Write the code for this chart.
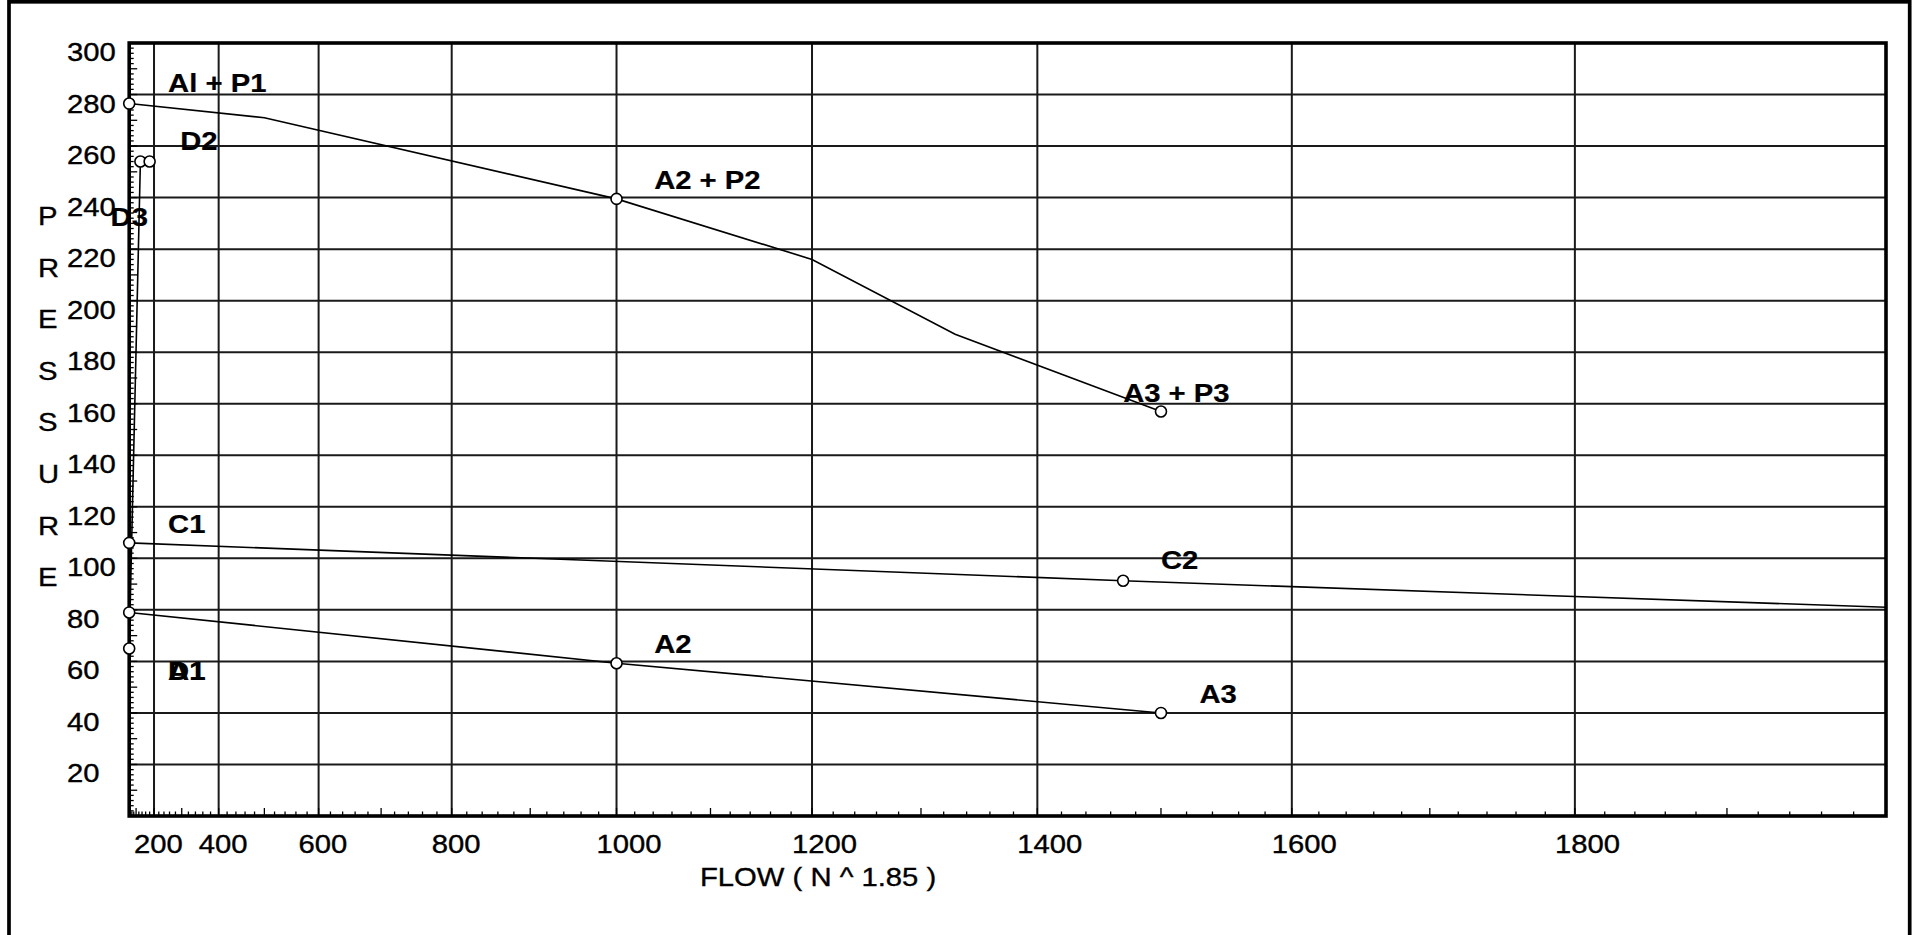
<!DOCTYPE html>
<html>
<head>
<meta charset="utf-8">
<script src="https://cdn.jsdelivr.net/npm/d3@7"></script>
<style>
  body { margin: 0; background: #fff; }
  svg { display: block; }
  text { font-family: "Liberation Sans", Arial, sans-serif; fill: #000; }
</style>
</head>
<body>
<div id="wrapper"></div>
<script>
// 1. Data (flow in gpm, pressure in psi)

const xTickValues = [200, 400, 600, 800, 1000, 1200, 1400, 1600, 1800];
const yTickValues = [20, 40, 60, 80, 100, 120, 140, 160, 180, 200, 220, 240, 260, 280, 300];

// supply + pump curve
const pumpCurve = [[0, 276.5], [500, 271], [1000, 239.5], [1200, 216], [1330, 187], [1500, 157]];
const pumpPoints = [[0, 276.5], [1000, 239.5], [1500, 157]];

// water supply test
const supplyCurve = [[0, 79], [1000, 59.3], [1500, 40]];
const supplyPoints = [[0, 79], [1000, 59.3], [1500, 40]];

// C line
const cCurve = [[0, 106], [1470, 91.3], [2000, 81]];
const cPoints = [[0, 106], [1470, 91.3]];

// demand
const demandCurve = [[0, 65], [130, 254], [180, 254]];
const demandPoints = [[0, 65], [130, 254], [180, 254]];

// label text and where it sits, in chart units
const labelNames = ["Al + P1", "D2", "D3", "A2 + P2", "A3 + P3", "C1", "C2", "A2", "A3", "D1", "A1"];
const labelFlow = [255, 295, 172, 1041, 1470, 255, 1500, 1041, 1530, 255, 255];
const labelPressure = [281, 258.5, 229, 243.3, 160.8, 110, 96, 63.3, 43.9, 52.8, 52.8];
const labelAnchor = ["start", "start", "end", "start", "start", "start", "start", "start", "start", "start", "start"];

const xTitle = "FLOW ( N ^ 1.85 )";
const yTitle = ["P", "R", "E", "S", "S", "U", "R", "E"];

function drawChart() {
  // 2. Dimensions

  const dimensions = {
    width: 1912,
    height: 935,
    plot: { left: 129.2, right: 1886, top: 43, bottom: 816 },
  };
  const fontSize = 25;
  const stretch = 1.17; // text in the reference is drawn wide

  // 3. Canvas

  const wrapper = d3
    .select("#wrapper")
    .append("svg")
    .attr("width", dimensions.width)
    .attr("height", dimensions.height);

  // 4. Scales

  const xScale = d3
    .scalePow()
    .exponent(1.85)
    .domain([0, 2000])
    .range([dimensions.plot.left, dimensions.plot.right]);

  const yScale = d3
    .scaleLinear()
    .domain([0, 300])
    .range([dimensions.plot.bottom, dimensions.plot.top]);

  const addText = (g, str, x, y, opts = {}) =>
    g
      .append("text")
      .attr("transform", `translate(${x},${y}) scale(${stretch},1)`)
      .attr("text-anchor", opts.anchor || "start")
      .style("font-size", `${fontSize}px`)
      .style("font-weight", opts.bold ? "bold" : "normal")
      .style("stroke", "#000")
      .style("stroke-width", opts.bold ? 0.2 : 0.35)
      .text(str);

  // outer frame
  wrapper
    .append("rect")
    .attr("x", 9)
    .attr("y", 1.8)
    .attr("width", 1900.7)
    .attr("height", 980)
    .attr("fill", "none")
    .attr("stroke", "#000")
    .attr("stroke-width", 3.7);

  // 5. Grid

  const grid = wrapper.append("g").attr("stroke", "#1a1a1a").attr("stroke-width", 2);

  grid
    .selectAll(".vgrid")
    .data(xTickValues)
    .join("line")
    .attr("x1", (d) => xScale(d))
    .attr("x2", (d) => xScale(d))
    .attr("y1", yScale(300))
    .attr("y2", yScale(0));

  grid
    .selectAll(".hgrid")
    .data(yTickValues.filter((d) => d < 300))
    .join("line")
    .attr("x1", xScale(0))
    .attr("x2", xScale(2000))
    .attr("y1", (d) => yScale(d))
    .attr("y2", (d) => yScale(d));

  // minor ticks
  const ticks = wrapper.append("g").attr("stroke", "#000").attr("stroke-width", 1.3);

  ticks
    .selectAll(".ytick")
    .data(d3.range(2, 300, 2))
    .join("line")
    .attr("x1", xScale(0))
    .attr("x2", (d) => xScale(0) + (d % 10 === 0 ? 8 : 4.5))
    .attr("y1", (d) => yScale(d))
    .attr("y2", (d) => yScale(d));

  ticks
    .selectAll(".xtick")
    .data(d3.range(20, 2000, 20))
    .join("line")
    .attr("x1", (d) => xScale(d))
    .attr("x2", (d) => xScale(d))
    .attr("y1", yScale(0))
    .attr("y2", (d) => yScale(0) - (d % 100 === 0 ? 8 : 4.5));

  // plot frame
  wrapper
    .append("rect")
    .attr("x", xScale(0))
    .attr("y", yScale(300))
    .attr("width", xScale(2000) - xScale(0))
    .attr("height", yScale(0) - yScale(300))
    .attr("fill", "none")
    .attr("stroke", "#000")
    .attr("stroke-width", 3.6);

  // 6. Axis labels

  const axisText = wrapper.append("g");
  xTickValues.forEach((d) => addText(axisText, d, xScale(d) - 20, 853));
  yTickValues.forEach((d) => addText(axisText, d, 67, yScale(d) + 18));
  addText(axisText, xTitle, 700, 886);
  yTitle.forEach((ch, i) => addText(axisText, ch, 38, 225 + i * 51.6));

  // 7. Curves

  const lineGenerator = d3
    .line()
    .x((d) => xScale(d[0]))
    .y((d) => yScale(d[1]));

  const curves = [pumpCurve, supplyCurve, cCurve, demandCurve];
  wrapper
    .append("g")
    .selectAll("path")
    .data(curves)
    .join("path")
    .attr("d", lineGenerator)
    .attr("fill", "none")
    .attr("stroke", "#000")
    .attr("stroke-width", 1.6);

  const points = [...pumpPoints, ...supplyPoints, ...cPoints, ...demandPoints];
  wrapper
    .append("g")
    .selectAll("circle")
    .data(points)
    .join("circle")
    .attr("cx", (d) => xScale(d[0]))
    .attr("cy", (d) => yScale(d[1]))
    .attr("r", 5.5)
    .attr("fill", "#fff")
    .attr("stroke", "#000")
    .attr("stroke-width", 1.6);

  // 8. Point labels

  const labels = wrapper.append("g");
  labelNames.forEach((name, i) =>
    addText(labels, name, xScale(labelFlow[i]), yScale(labelPressure[i]), {
      bold: true,
      anchor: labelAnchor[i],
    })
  );
}
drawChart();
</script>
</body>
</html>
